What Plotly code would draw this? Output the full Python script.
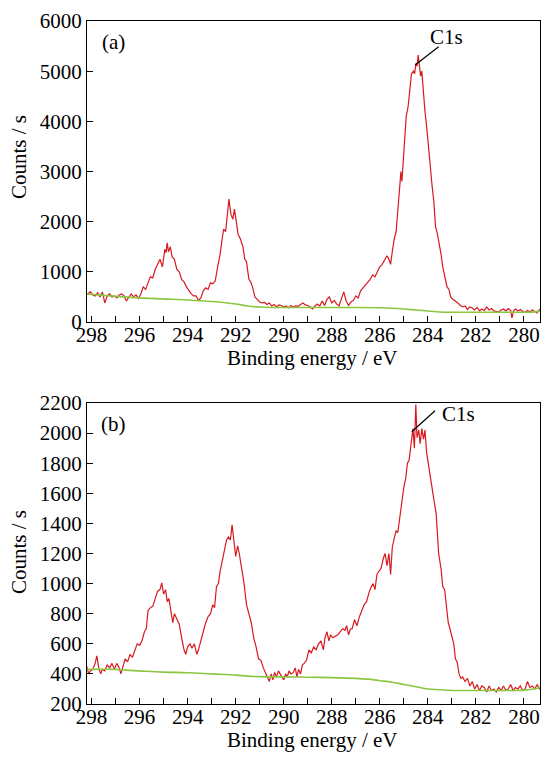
import plotly.graph_objects as go
from plotly.subplots import make_subplots

# ---------------- Panel (a) ----------------
a_energy = [298.25, 298.15, 298.05, 297.95, 297.85, 297.75, 297.65, 297.55, 297.45, 297.35,
            297.25, 297.15, 297.05, 296.95, 296.85, 296.75, 296.65, 296.55, 296.45, 296.35,
            296.25, 296.15, 296.05, 295.95, 295.85, 295.75, 295.65, 295.55, 295.45, 295.35,
            295.25, 295.15, 295.05, 294.95, 294.9, 294.85, 294.8, 294.72, 294.65, 294.55,
            294.45, 294.35, 294.25, 294.15, 294.05, 293.95, 293.85, 293.75, 293.65, 293.55,
            293.45, 293.35, 293.25, 293.15, 293.05, 292.95, 292.85, 292.75, 292.65, 292.55,
            292.5, 292.42, 292.35, 292.28, 292.2, 292.12, 292.05, 291.98, 291.9, 291.8,
            291.7, 291.62, 291.55, 291.45, 291.38, 291.3, 291.2, 291.1, 291.0, 290.9,
            290.8, 290.7, 290.6, 290.5, 290.4, 290.3, 290.2, 290.1, 290.0, 289.9,
            289.8, 289.7, 289.6, 289.5, 289.4, 289.3, 289.2, 289.1, 289.0, 288.9,
            288.8, 288.7, 288.6, 288.5, 288.4, 288.3, 288.2, 288.1, 288.0, 287.9,
            287.8, 287.7, 287.6, 287.5, 287.4, 287.3, 287.2, 287.1, 287.0, 286.9,
            286.8, 286.7, 286.6, 286.5, 286.4, 286.3, 286.2, 286.1, 286.0, 285.9,
            285.8, 285.7, 285.62, 285.55, 285.48, 285.4, 285.32, 285.25, 285.18, 285.12,
            285.08, 285.02, 284.95, 284.9, 284.82, 284.75, 284.68, 284.6, 284.55, 284.5,
            284.45, 284.4, 284.35, 284.3, 284.25, 284.2, 284.12, 284.05, 283.98, 283.9,
            283.82, 283.75, 283.68, 283.6, 283.52, 283.45, 283.38, 283.3, 283.2, 283.12,
            283.05, 282.95, 282.85, 282.75, 282.65, 282.55, 282.45, 282.35, 282.25, 282.15,
            282.05, 281.95, 281.85, 281.75, 281.65, 281.55, 281.45, 281.35, 281.25, 281.15,
            281.05, 280.95, 280.85, 280.75, 280.65, 280.55, 280.5, 280.42, 280.35, 280.25,
            280.15, 280.05, 279.95, 279.85, 279.75, 279.65, 279.55, 279.45, 279.35, 279.25]
a_counts = [530, 560, 600, 540, 520, 580, 500, 600, 380, 520,
            560, 500, 520, 480, 540, 560, 520, 420, 500, 560,
            500, 540, 470, 560, 700, 650, 780, 900, 880, 1050,
            1150, 1250, 1100, 1450, 1380, 1580, 1400, 1500, 1300, 1250,
            1050, 1000, 850, 800, 700, 620, 560, 520, 520, 430,
            480, 620, 680, 650, 780, 760, 820, 1100, 1350, 1700,
            1850, 1800, 2100, 2450, 2150, 2050, 2250, 2000, 1750, 1650,
            1500, 1250, 1200, 850, 800, 700, 500, 450, 400, 380,
            390, 350, 380, 320, 350, 300, 340, 330, 300, 320,
            280, 330, 300, 320, 310, 350, 380, 340, 330, 300,
            260, 320, 360, 320, 420, 330, 450, 500, 380, 430,
            360, 320, 450, 600, 420, 330, 400, 430, 520, 480,
            620, 680, 720, 800, 850, 940, 900, 1000, 1100, 1150,
            1250, 1320, 1250, 1150, 1400, 1650, 1800, 2200, 2600, 3000,
            2800, 3200, 3600, 4100, 4300, 4700, 4950, 5000, 4950, 5150,
            5100, 5320, 5150, 4900, 5000, 4650, 4200, 3900, 3500, 3100,
            2700, 2400, 1900, 1750, 1550, 1350, 1100, 900, 700, 650,
            500, 450, 420, 380, 330, 300, 320, 250, 300, 280,
            240, 290, 220, 260, 230, 300, 240, 270, 220, 210,
            200, 240, 260, 220, 270, 230, 80, 230, 260, 220,
            250, 210, 190, 230, 200, 240, 210, 180, 250, 230]
a_bg_energy = [298.25, 297.5, 297, 296, 295, 294, 293, 292.5, 292, 291.5, 291, 290, 289,
               288, 287, 286, 285.5, 285, 284.5, 284, 283.5, 283, 282, 281, 280, 279.6, 279.25]
a_bg_counts = [560, 530, 510, 480, 460, 440, 410, 390, 360, 320, 300, 290, 290,
               290, 290, 285, 275, 260, 240, 220, 200, 195, 195, 195, 195, 200, 230]

# ---------------- Panel (b) ----------------
b_energy = [298.2, 298.12, 298.05, 297.95, 297.85, 297.78, 297.7, 297.62, 297.55, 297.45,
            297.35, 297.25, 297.15, 297.05, 296.95, 296.85, 296.78, 296.7, 296.6, 296.5,
            296.4, 296.3, 296.2, 296.1, 296.0, 295.9, 295.8, 295.72, 295.65, 295.55,
            295.45, 295.35, 295.25, 295.15, 295.08, 295.0, 294.92, 294.85, 294.78, 294.7,
            294.62, 294.55, 294.45, 294.35, 294.25, 294.15, 294.08, 294.0, 293.9, 293.82,
            293.72, 293.62, 293.55, 293.45, 293.35, 293.25, 293.15, 293.05, 292.95, 292.88,
            292.8, 292.72, 292.65, 292.55, 292.45, 292.38, 292.3, 292.22, 292.15, 292.08,
            292.0, 291.92, 291.85, 291.75, 291.65, 291.55, 291.45, 291.35, 291.25, 291.15,
            291.05, 290.95, 290.85, 290.75, 290.68, 290.6, 290.52, 290.45, 290.38, 290.3,
            290.22, 290.15, 290.08, 290.0, 289.92, 289.85, 289.78, 289.7, 289.6, 289.52,
            289.45, 289.38, 289.3, 289.22, 289.15, 289.05, 288.95, 288.85, 288.75, 288.65,
            288.55, 288.45, 288.35, 288.28, 288.2, 288.12, 288.05, 287.95, 287.85, 287.75,
            287.65, 287.55, 287.45, 287.38, 287.3, 287.22, 287.15, 287.05, 286.95, 286.85,
            286.75, 286.65, 286.55, 286.45, 286.35, 286.28, 286.2, 286.12, 286.05, 285.95,
            285.85, 285.78, 285.7, 285.62, 285.55, 285.48, 285.4, 285.32, 285.25, 285.15,
            285.08, 285.0, 284.92, 284.85, 284.78, 284.7, 284.62, 284.56, 284.5, 284.45,
            284.38, 284.32, 284.25, 284.18, 284.12, 284.05, 283.95, 283.85, 283.75, 283.65,
            283.55, 283.45, 283.38, 283.3, 283.22, 283.15, 283.08, 283.0, 282.92, 282.85,
            282.78, 282.7, 282.62, 282.55, 282.45, 282.35, 282.25, 282.15, 282.05, 281.95,
            281.85, 281.75, 281.65, 281.55, 281.45, 281.35, 281.25, 281.15, 281.05, 280.95,
            280.85, 280.75, 280.65, 280.55, 280.45, 280.35, 280.25, 280.15, 280.05, 279.95,
            279.85, 279.75, 279.65, 279.55, 279.45, 279.35, 279.3]
b_counts = [450, 400, 420, 430, 470, 520, 440, 400, 430, 420,
            460, 440, 470, 430, 470, 440, 400, 450, 500, 480,
            530, 510, 560, 600, 590, 620, 680, 700, 820, 840,
            850, 900, 950, 960, 1005, 930, 960, 880, 900, 820,
            740, 800, 760, 730, 640, 560, 530, 580, 600, 570,
            600, 530, 560, 620, 680, 740, 780, 800, 860, 840,
            980, 1000, 1080, 1150, 1230, 1290, 1310, 1290, 1390, 1300,
            1180, 1250, 1200, 1100, 1000, 860, 800, 740, 640, 580,
            500, 490, 440, 400, 380, 350, 400, 360, 410, 380,
            420, 400, 390, 360, 400, 380, 420, 400, 410, 440,
            380, 430, 400, 460, 470, 490, 560, 540, 580, 560,
            600, 620, 560, 640, 680, 620, 660, 640, 650, 660,
            680, 700, 690, 720, 660, 700, 700, 760, 720, 780,
            820, 860, 880, 940, 980, 1000, 960, 1060, 1080, 1100,
            1170, 1200, 1120, 1200, 1060, 1240, 1300, 1350, 1340, 1460,
            1560, 1640, 1700, 1800, 1820, 1940, 2030, 1900, 2190, 1970,
            2020, 1930, 2030, 1960, 2020, 1870, 1760, 1640, 1560, 1460,
            1200, 1100, 980, 960, 820, 740, 700, 650, 600, 500,
            480, 400, 370, 380, 350, 370, 320, 350, 300, 330,
            290, 320, 310, 280, 320, 290, 300, 280, 310, 290,
            320, 290, 300, 330, 290, 310, 300, 320, 290, 300,
            350, 310, 320, 300, 330, 300, 310]
b_bg_energy = [298.2, 297, 296.6, 296, 295, 294, 293, 292, 291.5, 291, 290, 289, 288, 287,
               286.5, 286, 285.5, 285, 284.5, 284, 283.5, 283, 282, 281, 280, 279.6, 279.3]
b_bg_counts = [430, 430, 425, 420, 412, 408, 400, 392, 385, 382, 380, 378, 375, 370,
               365, 355, 345, 330, 315, 300, 295, 290, 290, 290, 292, 300, 310]

# tick labels
x_tick_vals = [298, 296, 294, 292, 290, 288, 286, 284, 282, 280]
a_y_ticks = [0, 1000, 2000, 3000, 4000, 5000, 6000]
b_y_ticks = [200, 400, 600, 800, 1000, 1200, 1400, 1600, 1800, 2000, 2200]

RED = "#d7191f"
GREEN = "#8cc63f"
FONT = "Liberation Serif"

W, H = 542, 758
L, R, T, B = 87, 2, 21, 54
a_bot, b_top = 322, 403
ph = H - T - B
fig = make_subplots(rows=2, cols=1)
dom_a = [(H - B - a_bot) / ph, 1.0]
dom_b = [0.0, (H - B - b_top) / ph]

fig.add_trace(go.Scatter(x=a_energy, y=a_counts, mode="lines",
                         line=dict(color=RED, width=1.2), showlegend=False), row=1, col=1)
fig.add_trace(go.Scatter(x=a_bg_energy, y=a_bg_counts, mode="lines", line_shape="spline",
                         line=dict(color=GREEN, width=1.6), showlegend=False), row=1, col=1)
fig.add_trace(go.Scatter(x=b_energy, y=b_counts, mode="lines",
                         line=dict(color=RED, width=1.2), showlegend=False), row=2, col=1)
fig.add_trace(go.Scatter(x=b_bg_energy, y=b_bg_counts, mode="lines", line_shape="spline",
                         line=dict(color=GREEN, width=1.6), showlegend=False), row=2, col=1)

xcommon = dict(range=[298.19, 279.33], tickvals=x_tick_vals, ticks="inside", ticklen=6,
               tickwidth=1.3, tickcolor="black", showline=True, linecolor="black", linewidth=1.3,
               mirror=True, showgrid=False, zeroline=False, automargin=False,
               ticklabelstandoff=-6,
               minor=dict(dtick=1, ticks="inside", ticklen=6, tickwidth=1.3, tickcolor="black",
                          tick0=280),
               tickfont=dict(family=FONT, size=21, color="black"))
ycommon = dict(ticks="inside", ticklen=6, tickwidth=1.3, tickcolor="black", showline=True,
               linecolor="black", linewidth=1.3, mirror=True, showgrid=False, zeroline=False,
               automargin=False, tickfont=dict(family=FONT, size=21, color="black"))

fig.update_xaxes(**xcommon, row=1, col=1)
fig.update_xaxes(**xcommon, row=2, col=1)
fig.update_yaxes(**ycommon, range=[0, 6000], tickvals=a_y_ticks, domain=dom_a, row=1, col=1)
fig.update_yaxes(**ycommon, range=[200, 2200], tickvals=b_y_ticks, domain=dom_b, row=2, col=1)

def px_to_paper_x(px):
    return (px - L) / (W - L - R)

def px_to_paper_y(py):
    return (H - B - py) / ph

tf = dict(family=FONT, size=21, color="black")
ann = []
for ycenter in (157, 552):
    ann.append(dict(text="Counts / s", x=px_to_paper_x(19), y=px_to_paper_y(ycenter),
                    xref="paper", yref="paper", showarrow=False, textangle=-90, font=tf,
                    xanchor="center", yanchor="middle"))
for ycenter in (358, 740):
    ann.append(dict(text="Binding energy / eV", x=px_to_paper_x(312), y=px_to_paper_y(ycenter),
                    xref="paper", yref="paper", showarrow=False, font=tf,
                    xanchor="center", yanchor="middle"))
ann.append(dict(text="(a)", x=px_to_paper_x(113), y=px_to_paper_y(42), xref="paper", yref="paper",
                showarrow=False, font=tf, xanchor="center", yanchor="middle"))
ann.append(dict(text="(b)", x=px_to_paper_x(113), y=px_to_paper_y(424), xref="paper", yref="paper",
                showarrow=False, font=tf, xanchor="center", yanchor="middle"))
ann.append(dict(text="C1s", x=px_to_paper_x(446), y=px_to_paper_y(37), xref="paper", yref="paper",
                showarrow=False, font=tf, xanchor="center", yanchor="middle"))
ann.append(dict(text="C1s", x=px_to_paper_x(458), y=px_to_paper_y(414), xref="paper", yref="paper",
                showarrow=False, font=tf, xanchor="center", yanchor="middle"))

shapes = [
    dict(type="line", xref="x", yref="y", x0=284.53, y0=5123, x1=283.55, y1=5488,
         line=dict(color="black", width=1.2)),
    dict(type="line", xref="x2", yref="y2", x0=284.67, y0=2009, x1=283.70, y1=2149,
         line=dict(color="black", width=1.2)),
]

fig.update_layout(width=W, height=H, margin=dict(l=L, r=R, t=T, b=B),
                  paper_bgcolor="white", plot_bgcolor="white",
                  annotations=ann, shapes=shapes, showlegend=False,
                  font=dict(family=FONT, size=21, color="black"))

fig.write_html("out.html", config={"displayModeBar": False},
               post_script="document.body.style.margin='0';document.body.style.overflow='hidden';")
